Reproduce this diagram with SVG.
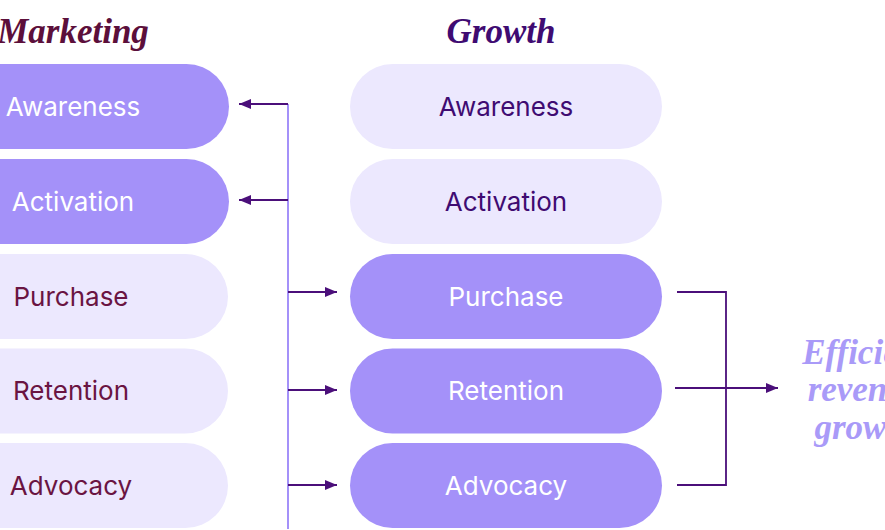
<svg xmlns="http://www.w3.org/2000/svg" width="885" height="530" viewBox="0 0 885 530">
<defs>
<style>
.pd{fill:#a491f9}
.pl{fill:#ece8fe}
.lbl{font-family:Inter,"Noto Sans",sans-serif;font-size:26px;text-anchor:middle}
.w{fill:#ffffff}
.m{fill:#6a1442}
.g{fill:#3f0b72}
.ttl{font-family:"Liberation Serif",serif;font-weight:bold;font-style:italic;text-anchor:middle}
.ln{stroke:#4b0f7a;stroke-width:1.8;fill:none}
.vl{stroke:#a491f9;stroke-width:2;fill:none}
</style>
<marker id="ah" viewBox="0 0 12 10" refX="12" refY="5" markerWidth="12" markerHeight="10" markerUnits="userSpaceOnUse" orient="auto">
<path d="M0,0 L12,5 L0,10 Z" fill="#4b0f7a"/>
</marker>
</defs>
<rect width="885" height="530" fill="#ffffff"/>
<text class="ttl" x="73" y="43" font-size="35" fill="#5c0f3b">Marketing</text>
<text class="ttl" x="501" y="43" font-size="35" fill="#3f0b72">Growth</text>
<g id="m-awareness"><rect class="pd" x="-84" y="64" width="313" height="85" rx="42.5"/><text class="lbl w" x="73" y="116">Awareness</text></g>
<g id="m-activation"><rect class="pd" x="-84" y="159" width="313" height="85" rx="42.5"/><text class="lbl w" x="73" y="211">Activation</text></g>
<g id="m-purchase"><rect class="pl" x="-84" y="254" width="312" height="85" rx="42.5"/><text class="lbl m" x="71" y="306">Purchase</text></g>
<g id="m-retention"><rect class="pl" x="-84" y="348.5" width="312" height="85" rx="42.5"/><text class="lbl m" x="71" y="400">Retention</text></g>
<g id="m-advocacy"><rect class="pl" x="-84" y="443" width="312" height="85" rx="42.5"/><text class="lbl m" x="71" y="495">Advocacy</text></g>
<g id="g-awareness"><rect class="pl" x="350" y="64" width="312" height="85" rx="42.5"/><text class="lbl g" x="506" y="116">Awareness</text></g>
<g id="g-activation"><rect class="pl" x="350" y="159" width="312" height="85" rx="42.5"/><text class="lbl g" x="506" y="211">Activation</text></g>
<g id="g-purchase"><rect class="pd" x="350" y="254" width="312" height="85" rx="42.5"/><text class="lbl w" x="506" y="306">Purchase</text></g>
<g id="g-retention"><rect class="pd" x="350" y="348.5" width="312" height="85" rx="42.5"/><text class="lbl w" x="506" y="400">Retention</text></g>
<g id="g-advocacy"><rect class="pd" x="350" y="443" width="312" height="85" rx="42.5"/><text class="lbl w" x="506" y="495">Advocacy</text></g>
<g id="outcome"><text class="ttl" font-size="35" fill="#a99af8"><tspan x="865" y="364">Efficient</tspan><tspan x="865" y="401">revenue</tspan><tspan x="865" y="439">growth</tspan></text></g>
<g id="connectors">
<path class="vl" d="M288,104 V529"/>
<path class="ln" d="M288,104 H239" marker-end="url(#ah)"/>
<path class="ln" d="M288,200 H239" marker-end="url(#ah)"/>
<path class="ln" d="M288,292 H337" marker-end="url(#ah)"/>
<path class="ln" d="M288,390 H337" marker-end="url(#ah)"/>
<path class="ln" d="M288,485 H337" marker-end="url(#ah)"/>
<path class="ln" d="M677,292 H726 V485 H677"/>
<path class="ln" d="M675,388 H778" marker-end="url(#ah)"/>
</g>
</svg>
